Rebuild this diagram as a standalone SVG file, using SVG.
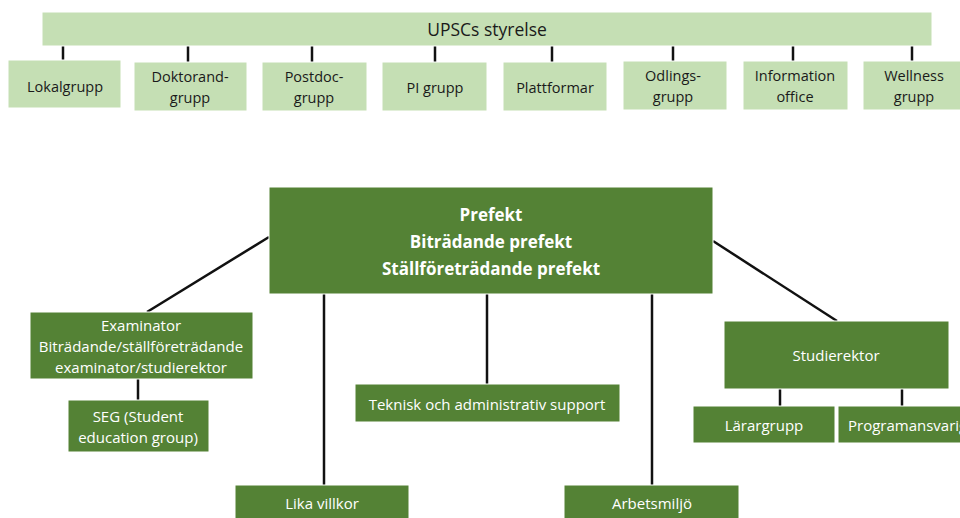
<svg xmlns="http://www.w3.org/2000/svg" width="960" height="518" viewBox="0 0 960 518">
<style>
.lt{fill:#c5dfb4;stroke:#ffffff;stroke-width:1}
.dk{fill:#548235;stroke:#ffffff;stroke-width:1}
.tl{font-family:"Open Sans","Liberation Sans",Arial,sans-serif;font-size:14.5px;fill:#1a1a1a;text-anchor:middle;dominant-baseline:central}
.tw{font-family:"Open Sans","Liberation Sans",Arial,sans-serif;font-size:15px;fill:#ffffff;text-anchor:middle;dominant-baseline:central}
.tb{font-family:"Open Sans","Liberation Sans",Arial,sans-serif;font-size:17px;font-weight:bold;fill:#ffffff;text-anchor:middle;dominant-baseline:central}
.cn{stroke:#111;stroke-width:2.5;fill:none}
</style>
<rect width="960" height="518" fill="#ffffff"/>
<g id="connectors">
<line class="cn" x1="63" y1="46" x2="63" y2="60"/>
<line class="cn" x1="188" y1="46" x2="188" y2="62"/>
<line class="cn" x1="312" y1="46" x2="312" y2="62"/>
<line class="cn" x1="435" y1="46" x2="435" y2="62"/>
<line class="cn" x1="552" y1="46" x2="552" y2="62"/>
<line class="cn" x1="673" y1="44" x2="673" y2="61"/>
<line class="cn" x1="793" y1="46" x2="793" y2="61"/>
<line class="cn" x1="912" y1="46" x2="912" y2="61"/>
<line class="cn" x1="269" y1="237" x2="147" y2="312"/>
<line class="cn" x1="138" y1="379" x2="138" y2="400"/>
<line class="cn" x1="324" y1="294" x2="324" y2="485"/>
<line class="cn" x1="487" y1="294" x2="487" y2="384"/>
<line class="cn" x1="652" y1="294" x2="652" y2="485"/>
<line class="cn" x1="713" y1="241" x2="837" y2="321"/>
<line class="cn" x1="780" y1="389" x2="780" y2="406"/>
<line class="cn" x1="902" y1="389" x2="902" y2="406"/>
</g>
<g id="upsc-styrelse"><rect class="lt" x="42" y="12" width="890" height="34"/><text class="tl" x="487" y="29" style="font-size:17.5px">UPSCs styrelse</text></g>
<g id="lokalgrupp"><rect class="lt" x="8" y="60" width="113" height="48"/><text class="tl" x="65" y="86">Lokalgrupp</text></g>
<g id="doktorandgrupp"><rect class="lt" x="134" y="62" width="113" height="49"/><text class="tl" x="190" y="76">Doktorand-</text><text class="tl" x="190" y="97">grupp</text></g>
<g id="postdocgrupp"><rect class="lt" x="262" y="62" width="105" height="49"/><text class="tl" x="314" y="76">Postdoc-</text><text class="tl" x="314" y="97">grupp</text></g>
<g id="pi-grupp"><rect class="lt" x="382" y="62" width="105" height="49"/><text class="tl" x="435" y="87">PI grupp</text></g>
<g id="plattformar"><rect class="lt" x="503" y="62" width="104" height="49"/><text class="tl" x="555" y="87">Plattformar</text></g>
<g id="odlingsgrupp"><rect class="lt" x="623" y="61" width="104" height="49"/><text class="tl" x="673" y="75">Odlings-</text><text class="tl" x="673" y="96">grupp</text></g>
<g id="information-office"><rect class="lt" x="743" y="61" width="105" height="49"/><text class="tl" x="795" y="75">Information</text><text class="tl" x="795" y="96">office</text></g>
<g id="wellness-grupp"><rect class="lt" x="863" y="61" width="105" height="49"/><text class="tl" x="914" y="75">Wellness</text><text class="tl" x="914" y="96">grupp</text></g>
<g id="prefekt"><rect class="dk" x="269" y="187" width="444" height="107"/><text class="tb" x="491" y="214">Prefekt</text><text class="tb" x="491" y="241">Biträdande prefekt</text><text class="tb" x="491" y="268">Ställföreträdande prefekt</text></g>
<g id="examinator"><rect class="dk" x="30" y="312" width="223" height="67"/><text class="tw" x="141" y="325">Examinator</text><text class="tw" x="141" y="346">Biträdande/ställföreträdande</text><text class="tw" x="141" y="367">examinator/studierektor</text></g>
<g id="seg"><rect class="dk" x="68" y="400" width="141" height="52"/><text class="tw" x="138" y="416">SEG (Student</text><text class="tw" x="138" y="437">education group)</text></g>
<g id="teknisk"><rect class="dk" x="355" y="384" width="265" height="38"/><text class="tw" x="487" y="404">Teknisk och administrativ support</text></g>
<g id="lika-villkor"><rect class="dk" x="235" y="485" width="174" height="40"/><text class="tw" x="322" y="503">Lika villkor</text></g>
<g id="arbetsmiljo"><rect class="dk" x="564" y="485" width="175" height="40"/><text class="tw" x="652" y="503">Arbetsmiljö</text></g>
<g id="studierektor"><rect class="dk" x="724" y="321" width="225" height="68"/><text class="tw" x="836" y="355">Studierektor</text></g>
<g id="larargrupp"><rect class="dk" x="693" y="406" width="142" height="37"/><text class="tw" x="764" y="425">Lärargrupp</text></g>
<g id="programansvarig"><rect class="dk" x="838" y="406" width="140" height="37"/><text class="tw" x="848" y="425" style="text-anchor:start">Programansvarig</text></g>
</svg>
